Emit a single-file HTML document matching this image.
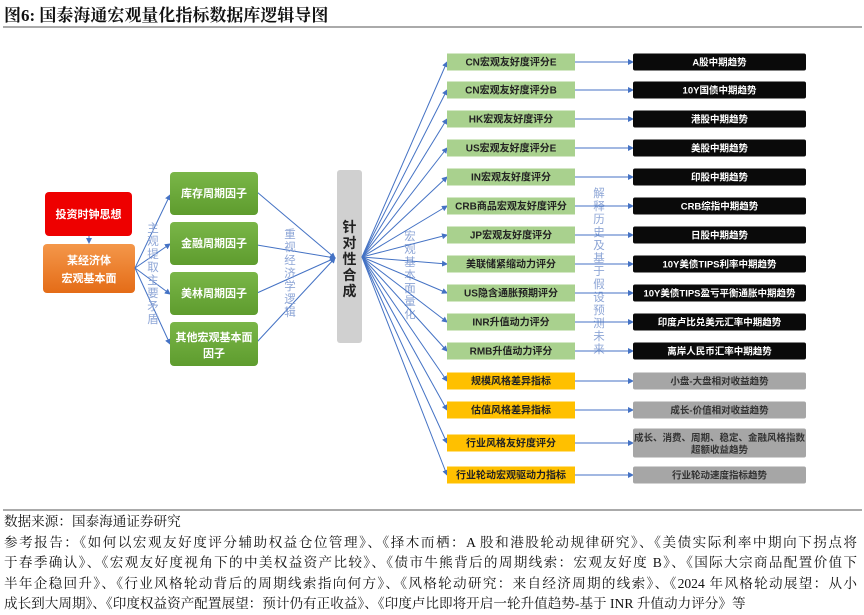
<!DOCTYPE html>
<html><head><meta charset="utf-8">
<style>
html,body{margin:0;padding:0;background:#fff;width:864px;height:612px;overflow:hidden;}
svg{display:block;}
.t{font-family:"Liberation Sans","Noto Sans CJK SC",sans-serif;}
.s{font-family:"Liberation Serif","Noto Serif CJK SC",serif;}
#foot{position:absolute;left:4px;top:512px;width:853px;font-family:"Liberation Serif","Noto Serif CJK SC",serif;font-size:13.6px;line-height:20.5px;color:#111;}
#foot div{white-space:nowrap;}
#foot .j{text-align:justify;text-align-last:justify;white-space:normal;}
</style></head><body>
<svg width="864" height="612" viewBox="0 0 864 612">
<defs>
<marker id="a" markerWidth="6" markerHeight="6" refX="5" refY="3" orient="auto" markerUnits="userSpaceOnUse"><path d="M0,0 L6,3 L0,6z" fill="#4472c4"/></marker>
<linearGradient id="g" x1="0" y1="0" x2="0" y2="1"><stop offset="0" stop-color="#7ab648"/><stop offset="1" stop-color="#5e9c2e"/></linearGradient>
<linearGradient id="o" x1="0" y1="0" x2="0" y2="1"><stop offset="0" stop-color="#f4974a"/><stop offset="1" stop-color="#e46c17"/></linearGradient>
</defs>
<text x="4" y="21" class="s" font-size="17" font-weight="bold" fill="#111">图6:  国泰海通宏观量化指标数据库逻辑导图</text>
<line x1="3" y1="27" x2="862" y2="27" stroke="#777" stroke-width="1.2"/>
<line x1="3" y1="510" x2="862" y2="510" stroke="#777" stroke-width="1.2"/>

<rect x="45" y="192" width="87" height="44" rx="4" fill="#ee0000"/>
<text x="88.5" y="218" text-anchor="middle" class="t" font-size="11" font-weight="bold" fill="#fff">投资时钟思想</text>
<line x1="89" y1="236" x2="89" y2="243" stroke="#4472c4" marker-end="url(#a)"/>
<rect x="43" y="244" width="92" height="49" rx="4" fill="url(#o)"/>
<text x="89" y="264" text-anchor="middle" class="t" font-size="11" font-weight="bold" fill="#fff">某经济体</text>
<text x="89" y="282" text-anchor="middle" class="t" font-size="11" font-weight="bold" fill="#fff">宏观基本面</text>

<g stroke="#4472c4" stroke-width="1" fill="none">
<line x1="135" y1="268" x2="170" y2="195" marker-end="url(#a)"/>
<line x1="135" y1="268" x2="170" y2="244" marker-end="url(#a)"/>
<line x1="135" y1="268" x2="170" y2="294" marker-end="url(#a)"/>
<line x1="135" y1="268" x2="170" y2="344" marker-end="url(#a)"/>
<line x1="257" y1="192" x2="335" y2="258" marker-end="url(#a)"/>
<line x1="257" y1="245" x2="335" y2="258" marker-end="url(#a)"/>
<line x1="257" y1="293" x2="335" y2="258" marker-end="url(#a)"/>
<line x1="257" y1="342" x2="335" y2="258" marker-end="url(#a)"/>
</g>

<rect x="170" y="172" width="88" height="43" rx="4" fill="url(#g)"/>
<text x="214" y="197" text-anchor="middle" class="t" font-size="11" font-weight="bold" fill="#fff">库存周期因子</text>
<rect x="170" y="222" width="88" height="43" rx="4" fill="url(#g)"/>
<text x="214" y="247" text-anchor="middle" class="t" font-size="11" font-weight="bold" fill="#fff">金融周期因子</text>
<rect x="170" y="272" width="88" height="43" rx="4" fill="url(#g)"/>
<text x="214" y="297" text-anchor="middle" class="t" font-size="11" font-weight="bold" fill="#fff">美林周期因子</text>
<rect x="170" y="322" width="88" height="44" rx="4" fill="url(#g)"/>
<text x="214" y="341" text-anchor="middle" class="t" font-size="11" font-weight="bold" fill="#fff">其他宏观基本面</text>
<text x="214" y="357" text-anchor="middle" class="t" font-size="11" font-weight="bold" fill="#fff">因子</text>

<rect x="337" y="170" width="25" height="173" rx="3" fill="#d0d0d0"/>
<g class="t" font-size="14" font-weight="bold" fill="#222" text-anchor="middle">
<text x="349.5" y="232">针</text><text x="349.5" y="248">对</text><text x="349.5" y="264">性</text><text x="349.5" y="280">合</text><text x="349.5" y="296">成</text>
</g>

<g class="t" font-size="11.5" fill="#8ea6d6" text-anchor="middle">
<text x="153" y="232">主</text><text x="153" y="245">观</text><text x="153" y="258">提</text><text x="153" y="271">取</text><text x="153" y="284">主</text><text x="153" y="297">要</text><text x="153" y="310">矛</text><text x="153" y="323">盾</text>
<text x="290" y="238">重</text><text x="290" y="251">视</text><text x="290" y="264">经</text><text x="290" y="277">济</text><text x="290" y="290">学</text><text x="290" y="303">逻</text><text x="290" y="316">辑</text>
<text x="410" y="240">宏</text><text x="410" y="253">观</text><text x="410" y="266">基</text><text x="410" y="279">本</text><text x="410" y="292">面</text><text x="410" y="305">量</text><text x="410" y="318">化</text>
<text x="599" y="197">解</text><text x="599" y="210">释</text><text x="599" y="223">历</text><text x="599" y="236">史</text><text x="599" y="249">及</text><text x="599" y="262">基</text><text x="599" y="275">于</text><text x="599" y="288">假</text><text x="599" y="301">设</text><text x="599" y="314">预</text><text x="599" y="327">测</text><text x="599" y="340">未</text><text x="599" y="353">来</text>
</g>

<g id="rows"></g>
</svg>
<div id="foot">
<div>数据来源：国泰海通证券研究</div>
<div class="j">参考报告：《如何以宏观友好度评分辅助权益仓位管理》、《择木而栖：A 股和港股轮动规律研究》、《美债实际利率中期向下拐点将</div>
<div class="j">于春季确认》、《宏观友好度视角下的中美权益资产比较》、《债市牛熊背后的周期线索：宏观友好度 B》、《国际大宗商品配置价值下</div>
<div class="j">半年企稳回升》、《行业风格轮动背后的周期线索指向何方》、《风格轮动研究：来自经济周期的线索》、《2024 年风格轮动展望：从小</div>
<div>成长到大周期》、《印度权益资产配置展望：预计仍有正收益》、《印度卢比即将开启一轮升值趋势-基于 INR 升值动力评分》等</div>
</div>
<script>
var rows=[
["CN宏观友好度评分E","A股中期趋势",62,0],
["CN宏观友好度评分B","10Y国债中期趋势",90,0],
["HK宏观友好度评分","港股中期趋势",119,0],
["US宏观友好度评分E","美股中期趋势",148,0],
["IN宏观友好度评分","印股中期趋势",177,0],
["CRB商品宏观友好度评分","CRB综指中期趋势",206,0],
["JP宏观友好度评分","日股中期趋势",235,0],
["美联储紧缩动力评分","10Y美债TIPS利率中期趋势",264,0],
["US隐含通胀预期评分","10Y美债TIPS盈亏平衡通胀中期趋势",293,0],
["INR升值动力评分","印度卢比兑美元汇率中期趋势",322,0],
["RMB升值动力评分","离岸人民币汇率中期趋势",351,0],
["规模风格差异指标","小盘-大盘相对收益趋势",381,1],
["估值风格差异指标","成长-价值相对收益趋势",410,1],
["行业风格友好度评分","成长、消费、周期、稳定、金融风格指数|超额收益趋势",443,1],
["行业轮动宏观驱动力指标","行业轮动速度指标趋势",475,1]];
var g=document.getElementById("rows"),h="";
rows.forEach(function(r){
 var y=r[2],y1=r[3];
 h+='<line x1="362" y1="257" x2="447" y2="'+y+'" stroke="#4472c4" stroke-width="1" marker-end="url(#a)"/>';
 h+='<line x1="575" y1="'+y+'" x2="633" y2="'+y+'" stroke="#4472c4" stroke-width="1" marker-end="url(#a)"/>';
 h+='<rect x="447" y="'+(y-8.5)+'" width="128" height="17" fill="'+(y1?'#ffc000':'#a9d18e')+'"/>';
 h+='<text x="511" y="'+(y+3.5)+'" text-anchor="middle" class="t" font-size="10" font-weight="bold" fill="#222">'+r[0]+'</text>';
 var parts=r[1].split("|");
 if(parts.length>1){
  h+='<rect x="633" y="'+(y-14.5)+'" width="173" height="29" rx="2" fill="#a6a6a6"/>';
  h+='<text x="719.5" y="'+(y-2)+'" text-anchor="middle" class="t" font-size="9.5" font-weight="bold" fill="#333">'+parts[0]+'</text>';
  h+='<text x="719.5" y="'+(y+10)+'" text-anchor="middle" class="t" font-size="9.5" font-weight="bold" fill="#333">'+parts[1]+'</text>';
 } else {
  h+='<rect x="633" y="'+(y-8.5)+'" width="173" height="17" rx="2" fill="'+(y1?'#a6a6a6':'#0a0a0a')+'"/>';
  h+='<text x="719.5" y="'+(y+3.5)+'" text-anchor="middle" class="t" font-size="9.5" font-weight="bold" fill="'+(y1?'#333':'#fff')+'">'+r[1]+'</text>';
 }
});
g.innerHTML=h;
</script>
</body></html>
